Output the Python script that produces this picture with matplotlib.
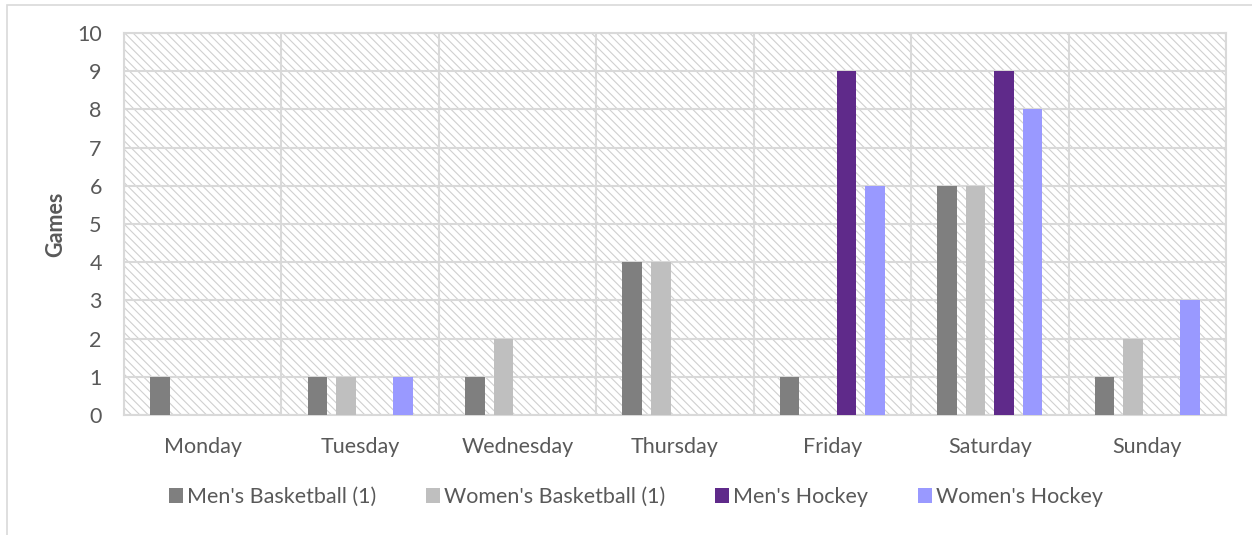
import matplotlib

matplotlib.use("Agg")
import matplotlib.pyplot as plt
import numpy as np
from matplotlib.patches import Rectangle

DAYS = ["Monday", "Tuesday", "Wednesday", "Thursday", "Friday", "Saturday", "Sunday"]
SERIES = [
    "Men's Basketball (1)",
    "Women's Basketball (1)",
    "Men's Hockey",
    "Women's Hockey",
]
MENS_BASKETBALL = [1, 1, 1, 4, 1, 6, 1]
WOMENS_BASKETBALL = [0, 1, 2, 4, 0, 6, 2]
MENS_HOCKEY = [0, 0, 0, 0, 9, 9, 0]
WOMENS_HOCKEY = [0, 1, 0, 0, 6, 8, 3]
Y_TICKS = list(range(0, 11))

COLORS = ["#7f7f7f", "#bfbfbf", "#5f2a8a", "#9999ff"]
GRID = "#d9d9d9"
TEXT = "#595959"

plt.rcParams.update(
    {
        "font.family": ["Lato", "DejaVu Sans"],
        "font.size": 15,
        "hatch.linewidth": 0.8,
    }
)

fig = plt.figure(figsize=(12.52, 5.35), dpi=100)
ax = fig.add_axes([124 / 1252, 1 - 415 / 535, (1226 - 124) / 1252, (415 - 33) / 535])

# chart frame (Excel style), only top and left visible in the crop
fig.patches.append(
    Rectangle((7 / 1252, -0.1), 1.2, 1 - 5 / 535 + 0.1, transform=fig.transFigure,
              facecolor="none", edgecolor=GRID, linewidth=1.2)
)

# hatched plot area
ax.patch.set_facecolor("white")
ax.patch.set_hatch("\\\\\\\\")
ax.patch.set_edgecolor("#d0d0d0")
ax.patch.set_linewidth(0)

x = np.arange(len(DAYS))
width = 0.124
step = 0.181
offsets = [-1.5 * step, -0.5 * step, 0.5 * step, 1.5 * step]
all_values = [MENS_BASKETBALL, WOMENS_BASKETBALL, MENS_HOCKEY, WOMENS_HOCKEY]
for values, label, color, off in zip(all_values, SERIES, COLORS, offsets):
    ax.bar(x + off, values, width, color=color, label=label, zorder=3, linewidth=0)

ax.set_xlim(-0.5, len(DAYS) - 0.5)
ax.set_ylim(0, 10)
ax.set_yticks(Y_TICKS)
ax.set_xticks(x)
ax.set_xticklabels(DAYS)
ax.set_xticks(np.arange(-0.5, len(DAYS), 1.0), minor=True)
ax.tick_params(axis="both", which="both", length=0, colors=TEXT, labelsize=15.5)
ax.tick_params(axis="y", pad=16)
ax.tick_params(axis="x", pad=16)

ax.set_axisbelow(True)
ax.grid(axis="y", which="major", color=GRID, linewidth=1.5, zorder=1)
ax.grid(axis="x", which="minor", color=GRID, linewidth=1.5, zorder=1)
for spine in ax.spines.values():
    spine.set_color(GRID)
    spine.set_linewidth(1.5)

ax.set_ylabel("Games", fontweight="bold", color=TEXT, fontsize=15.5)
ax.yaxis.set_label_coords(-(124 - 66) / 1102, 0.5)

fig.legend(
    loc="center",
    bbox_to_anchor=(636 / 1252, 1 - 497 / 535),
    ncol=4,
    frameon=False,
    fontsize=15.5,
    labelcolor=TEXT,
    handlelength=0.65,
    handleheight=0.65,
    handletextpad=0.2,
    columnspacing=2.3,
)

fig.savefig("out.png", dpi=100)
